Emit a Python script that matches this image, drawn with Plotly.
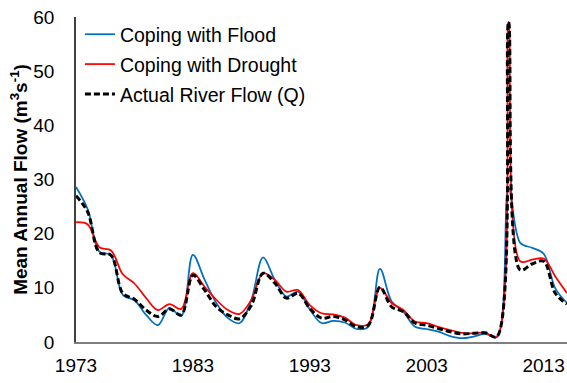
import plotly.graph_objects as go

years = list(range(1973, 2016))

flood = [28.6, 24.5, 16.7, 16.0, 8.7, 7.7, 5.0, 3.1, 6.3, 4.8,
         16.1, 11.5, 7.2, 4.4, 3.5, 7.8, 15.6, 11.5, 8.4, 9.3,
         6.0, 3.5, 3.9, 3.6, 2.4, 2.8, 13.5, 7.5, 5.6, 2.8,
         2.4, 1.9, 1.1, 0.7, 1.0, 1.5, 0.9, 28.5, 18.3, 17.4,
         16.3, 9.9, 7.2]

drought = [22.1, 21.7, 17.5, 16.9, 12.5, 10.8, 8.1, 5.9, 7.0, 6.1,
           12.7, 10.2, 7.8, 5.9, 5.2, 7.8, 12.7, 11.5, 9.3, 9.6,
           6.8, 5.3, 5.1, 4.5, 3.1, 3.3, 10.0, 7.2, 5.9, 3.8,
           3.5, 2.8, 2.2, 1.7, 1.6, 1.7, 1.0, 59.1, 14.9, 15.2,
           15.4, 12.1, 9.0]

actual = [27.0, 24.0, 16.5, 16.0, 9.0, 7.9, 5.9, 4.7, 6.1, 5.0,
          12.3, 9.6, 6.5, 5.0, 4.3, 6.8, 12.7, 10.9, 8.1, 9.0,
          6.2, 4.4, 4.7, 4.1, 2.8, 3.1, 10.1, 6.5, 5.6, 3.5,
          3.1, 2.5, 1.9, 1.5, 1.6, 1.7, 1.0, 59.1, 13.3, 14.4,
          14.9, 9.0, 7.0]

tick_years = [1973, 1983, 1993, 2003, 2013]
tick_labels = [str(y) for y in tick_years]

FONT = "Arial, Liberation Sans, sans-serif"

fig = go.Figure()
fig.add_trace(go.Scatter(x=years, y=flood, name="Coping with Flood", mode="lines",
                         line=dict(color="#0070C0", width=1.75, shape="spline", smoothing=1),
                         legendgroup="a"))
fig.add_trace(go.Scatter(x=years, y=drought, name="Coping with Drought", mode="lines",
                         line=dict(color="#FF0000", width=1.75, shape="spline", smoothing=1),
                         legendgroup="b"))
fig.add_trace(go.Scatter(x=years, y=actual, name="Actual River Flow (Q)", mode="lines",
                         line=dict(color="#000000", width=3, shape="spline", smoothing=1,
                                   dash="6px,3px"),
                         legendgroup="c"))

fig.update_layout(
    width=567, height=383,
    margin=dict(l=76, r=0, t=17, b=41, autoexpand=False),
    paper_bgcolor="white", plot_bgcolor="white",
    font=dict(family=FONT, size=19, color="#000000"),
    showlegend=True,
    legend=dict(x=0.008, y=1.006, xanchor="left", yanchor="top",
                font=dict(size=19.5, family=FONT, color="#000000"),
                bgcolor="rgba(0,0,0,0)", traceorder="grouped", tracegroupgap=1.5,
                itemwidth=30),
    xaxis=dict(range=[1973, 2015], tickvals=tick_years, ticktext=tick_labels,
               showgrid=False, zeroline=False, showline=True, linecolor="#7f7f7f",
               linewidth=1.5, ticks="", tickfont=dict(size=19, family=FONT),
               ticklabelstandoff=5, automargin=False, ticklabeloverflow="allow"),
    yaxis=dict(range=[0, 60], dtick=10, showgrid=False, zeroline=False,
               showline=True, linecolor="#404040", linewidth=1.5, ticks="",
               tickfont=dict(size=19, family=FONT), ticklabelstandoff=16,
               automargin=False, ticklabeloverflow="allow",
               title=dict(text="<b>Mean Annual Flow (m<sup>3</sup>s<sup>-1</sup>)</b>",
                          font=dict(size=19, family=FONT, color="#000000"),
                          standoff=1)),
)

fig.write_html(
    "out.html",
    config={"displayModeBar": False},
    post_script="document.body.style.margin='0';document.body.style.overflow='hidden';",
)
